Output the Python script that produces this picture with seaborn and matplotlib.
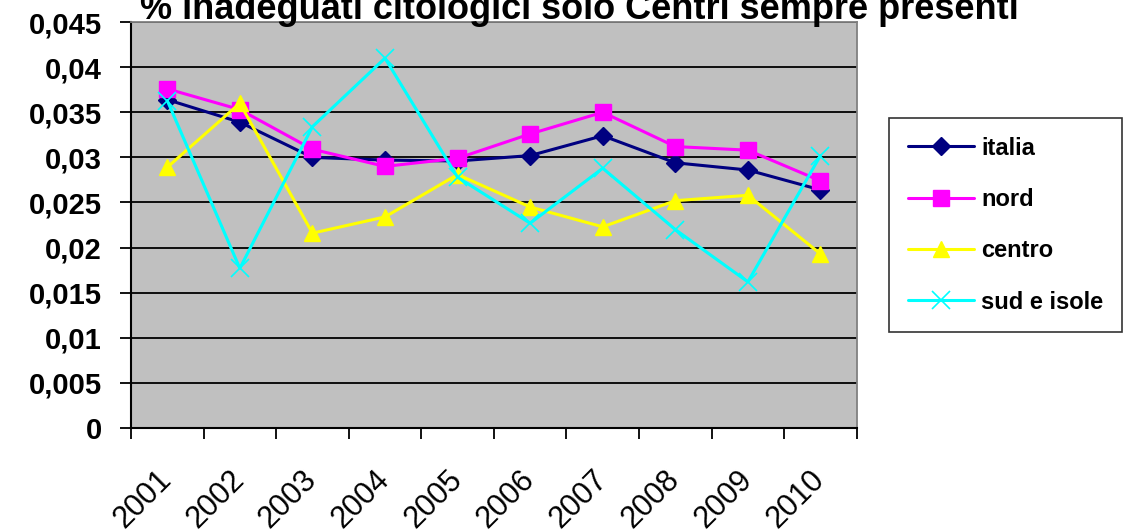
import pandas as pd
import seaborn as sns
import matplotlib.pyplot as plt
from matplotlib.ticker import FixedLocator, FuncFormatter

# valori
anni = ['2001', '2002', '2003', '2004', '2005', '2006', '2007', '2008', '2009', '2010']
italia = [0.0364, 0.0339, 0.0300, 0.0297, 0.0296, 0.0302, 0.0324, 0.0294, 0.0286, 0.0264]
nord = [0.0376, 0.0353, 0.0309, 0.0290, 0.0299, 0.0326, 0.0350, 0.0312, 0.0308, 0.0274]
centro = [0.0289, 0.0360, 0.0216, 0.0234, 0.0281, 0.0245, 0.0223, 0.0252, 0.0258, 0.0193]
sud_isole = [0.0363, 0.0177, 0.0334, 0.0410, 0.0278, 0.0227, 0.0288, 0.0220, 0.0162, 0.0302]
serie = ['italia', 'nord', 'centro', 'sud e isole']

df = pd.DataFrame({'pos': range(len(anni)), 'italia': italia, 'nord': nord,
                   'centro': centro, 'sud e isole': sud_isole})

colori = {'italia': '#000080', 'nord': '#FF00FF', 'centro': '#FFFF00', 'sud e isole': '#00FFFF'}
marcatori = {'italia': 'D', 'nord': 's', 'centro': '^', 'sud e isole': 'x'}
dim = {'italia': 9, 'nord': 11, 'centro': 11, 'sud e isole': 13}

sns.set_style('white')
plt.rcParams['font.family'] = ['Liberation Sans', 'DejaVu Sans']
plt.rcParams['text.color'] = 'black'
plt.rcParams['xtick.color'] = 'black'
plt.rcParams['ytick.color'] = 'black'

fig = plt.figure(figsize=(11.34, 5.32), dpi=100)
ax = fig.add_axes([0.1155, 0.1955, 0.640, 0.763])
ax.set_facecolor('#C0C0C0')

for nome in serie:
    sns.lineplot(data=df, x='pos', y=nome, color=colori[nome], marker=marcatori[nome],
                 markersize=dim[nome], markeredgecolor=colori[nome],
                 markeredgewidth=1.2 if nome == 'sud e isole' else 1.0,
                 linewidth=2.2, label=nome, ax=ax)

ax.set_xlim(-0.5, 9.5)
ax.set_ylim(0, 0.045)
ax.yaxis.set_major_locator(FixedLocator([i * 0.005 for i in range(10)]))
ax.yaxis.set_major_formatter(FuncFormatter(lambda v, p: f'{round(v, 4):g}'.replace('.', ',')))
ax.grid(axis='y', color='black', linewidth=1.3)
ax.set_axisbelow(True)

ax.xaxis.set_major_locator(FixedLocator([i - 0.5 for i in range(11)]))
ax.xaxis.set_major_formatter(FuncFormatter(lambda v, p: ''))
ax.xaxis.set_minor_locator(FixedLocator(list(range(10))))
ax.set_xticklabels(anni, minor=True, rotation=45, ha='right', va='center',
                   rotation_mode='anchor', fontsize=22)
ax.tick_params(axis='x', which='major', direction='out', length=8, width=1.3, color='black', bottom=True)
ax.tick_params(axis='x', which='minor', length=0, pad=34)
ax.tick_params(axis='y', direction='out', length=8, width=1.3, color='black', left=True,
               labelsize=21, pad=13)
for lab in ax.get_yticklabels():
    lab.set_fontweight('bold')

for s in ['top', 'right']:
    ax.spines[s].set_color('#808080')
    ax.spines[s].set_linewidth(1.3)
for s in ['left', 'bottom']:
    ax.spines[s].set_color('black')
    ax.spines[s].set_linewidth(1.5)

ax.set_xlabel('')
ax.set_ylabel('')

leg = ax.legend(loc='center left', bbox_to_anchor=(1.028, 0.50), frameon=True, fancybox=False,
                prop={'weight': 'bold', 'size': 17}, labelspacing=1.2, handlelength=2.8,
                borderpad=0.8, handletextpad=0.3)
leg.get_frame().set_edgecolor('black')
leg.get_frame().set_linewidth(1.2)

fig.text(0.511, (532 - 19) / 532, '% inadeguati citologici solo Centri sempre presenti',
         ha='center', va='baseline', fontsize=26, fontweight='bold')

fig.savefig('out.png', dpi=100, facecolor='white')
